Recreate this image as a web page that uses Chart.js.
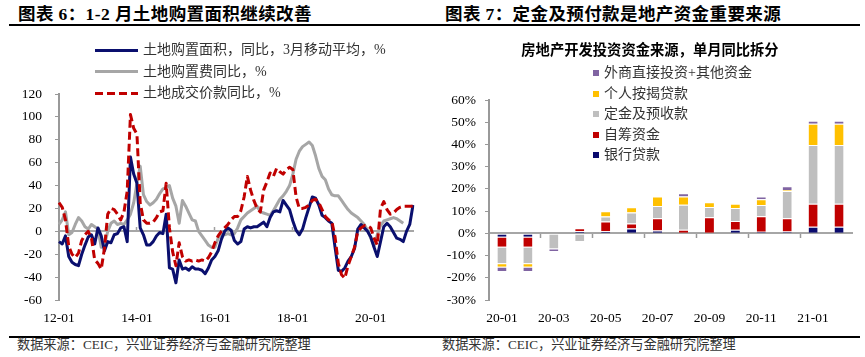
<!DOCTYPE html>
<html><head><meta charset="utf-8">
<script src="https://cdn.jsdelivr.net/npm/chart.js@4.4.0/dist/chart.umd.min.js"></script>
<style>
html,body{margin:0;padding:0;background:#fff;}
#wrap{position:relative;width:865px;height:357px;overflow:hidden;font-family:'Liberation Serif','Noto Sans CJK SC',serif;}
.abs{position:absolute;white-space:nowrap;}
.title{font-size:17.5px;font-weight:bold;color:#000;line-height:20px;letter-spacing:0.4px;}
.sub{font-size:14.3px;font-weight:bold;color:#000;line-height:18px;}
.leg{font-size:14px;color:#333;line-height:18px;}
.src{font-size:13.2px;color:#333;line-height:16px;}
canvas{position:absolute;}
</style></head>
<body><div id="wrap">
<div class="abs title" style="left:18px;top:4px">图表 6：1-2 月土地购置面积继续改善</div>
<div class="abs title" style="left:445px;top:4px">图表 7：定金及预付款是地产资金重要来源</div>
<div class="abs" style="left:9px;top:24px;width:851px;height:2px;background:#000"></div>
<canvas id="c1" width="432" height="335" style="left:0;top:0"></canvas>
<canvas id="c2" width="433" height="335" style="left:432px;top:0"></canvas>
<div class="abs sub" id="sub2" style="left:650px;top:41px;transform:translateX(-50%)">房地产开发投资资金来源，单月同比拆分</div>
<div id="leg1"></div>
<div id="leg2"></div>
<div class="abs" style="left:9px;top:336px;width:851px;height:1.5px;background:#000"></div>
<div class="abs src" style="left:17px;top:337px">数据来源：CEIC，兴业证券经济与金融研究院整理</div>
<div class="abs src" style="left:442px;top:337px">数据来源：CEIC，兴业证券经济与金融研究院整理</div>
</div>
<script>
// ---------- Left chart data ----------
const months = [];
for (let k = 0; k < 110; k++) { const yy = 12 + Math.floor(k / 12), mm = k % 12 + 1; months.push(yy + '-' + String(mm).padStart(2, '0')); }
const leftTickLabels = ['12-01', '14-01', '16-01', '18-01', '20-01'];
const leftNames = ['土地购置面积，同比，3月移动平均，%', '土地购置费同比，%', '土地成交价款同比，%'];
const landArea = [-9,-11,-4,-22,-27,-29,-30,-20,-12,-5, -3,-11,3,-4,-17,-9,-10,-3,-2,3, 4,-9,65,50,42,3,-3,-12,-12,-9, -4,-1,-2,15,-32,-33,-45,-25,-33,-32, -34,-31,-33,-33,-34,-37,-32,-25,-22,-17, -7,0,3,1,-8,-11,-9,2,4,3, 4,4,6,8,4,12,17,18,17,27, 23,19,9,1,-3,2,12,21,30,29, 23,14,12,9,7,-14,-34,-35,-32,-26, -22,-15,2,6,3,0,-5,-14,-22,-9, 4,7,4,-1,-6,-7,-9,0,6,23];
const landCost = [6,10,17,-3,-1,6,12,9,4,2, 6,4,2,-14,-12,0,7,9,6,7, 6,10,15,25,42,57,32,26,23,25, 28,33,37,38,40,29,22,7,27,22, 16,10,9,0,-4,-8,-12,-14,-14,-6, -3,-3,-2,-3,-2,3,10,13,16,18, 20,22,17,16,15,14,18,23,28,31, 35,40,50,63,70,74,76,78,75,66, 55,48,45,37,32,31,31,27,23,19, 16,14,12,9,6,1,-6,-13,-3,5, 9,10,11,12,11,9,7];
const landValue = [25,21,10,-13,-20,-23,-19,-8,-3,0, -6,-25,-28,-33,-15,15,20,19,15,10, 17,35,102,90,85,25,10,7,7,8, 12,17,18,42,3,-18,-30,-10,-22,-26, -25,-26,-25,-26,-25,-26,-23,-18,-10,-4, 0,3,6,10,13,13,18,30,48,36, 27,20,17,36,43,51,48,55,52,50, 54,56,54,30,20,20,21,23,27,28, 25,19,13,10,9,-5,-28,-38,-41,-30, -22,-14,0,3,5,5,3,-6,-12,20, 26,19,15,16,19,21,22,22,22,22];
const leftColors = ['#0a0f6e', '#a6a6a6', '#c00000'];

// ---------- Right chart data ----------
const barMonths = ['20-01','20-02','20-03','20-04','20-05','20-06','20-07','20-08','20-09','20-10','20-11','20-12','21-01','21-02'];
const bankLoans = [-1.5,-1.5,0,0.9,0.9,2.2,1.3,0,0,1.6,0.7,0.8,3.0,3.0];
const selfRaised = [-4.5,-4.5,0,1.4,4.4,2.2,5.5,1.6,7.2,3.9,7.0,6.0,10.3,10.3];
const deposits = [-7.5,-7.5,-6.8,-3.5,2.3,5.0,5.5,11.3,4.6,5.9,5.0,12.3,26.5,26.5];
const mortgages = [-1.5,-1.5,0,0,2.3,2.3,4.3,3.7,2.2,1.9,2.6,0.4,9.5,9.5];
const otherFunds = [-2.0,-2.0,-1.2,0,0,0,0,1.4,0,0,1.3,1.7,1.4,1.4];
const rightNames = ['银行贷款', '自筹资金', '定金及预收款', '个人按揭贷款', '外商直接投资+其他资金'];
const rightColors = ['#0a0a6e', '#c00000', '#bfbfbf', '#ffc000', '#8064a2'];
const rightSeries = [bankLoans, selfRaised, deposits, mortgages, otherFunds];

Chart.defaults.font.family = "'Liberation Serif','Noto Sans CJK SC',serif";
Chart.defaults.color = '#000';
const transparent = 'rgba(0,0,0,0)';

new Chart(document.getElementById('c1'), {
  type: 'line',
  data: {
    labels: months,
    datasets: [
      { label: leftNames[2], data: landValue, borderColor: leftColors[2], borderWidth: 3, borderDash: [8, 4], pointRadius: 0, order: 0, fill: false },
      { label: leftNames[0], data: landArea, borderColor: leftColors[0], borderWidth: 3, pointRadius: 0, order: 1, fill: false },
      { label: leftNames[1], data: landCost, borderColor: leftColors[1], borderWidth: 3, pointRadius: 0, order: 2, fill: false }
    ]
  },
  options: {
    responsive: false, animation: false, devicePixelRatio: 1,
    layout: { padding: { top: 94, right: 19, bottom: 0, left: 0 } },
    plugins: { legend: { display: false }, tooltip: { enabled: false } },
    elements: { line: { tension: 0, borderJoinStyle: 'round' } },
    scales: {
      x: {
        type: 'category', offset: false,
        grid: { display: false, drawTicks: false, tickLength: 0 }, border: { display: false },
        ticks: { autoSkip: false, maxRotation: 0, minRotation: 0, padding: 10, color: '#000', font: { size: 13.5 },
          callback: (v, i) => leftTickLabels.includes(months[i]) ? months[i] : '' },
        afterFit: s => { s.height = 35; }
      },
      x0: {
        type: 'category', axis: 'x', position: { y: 0 }, offset: false,
        ticks: { display: false },
        grid: { drawOnChartArea: false, drawTicks: true, tickLength: -5, tickWidth: 1.5,
          color: c => (c.index > 0 && leftTickLabels.includes(months[c.index])) ? '#a0a0a0' : transparent },
        border: { display: true, color: '#a6a6a6', width: 2 }
      },
      y: {
        min: -60, max: 120,
        ticks: { stepSize: 20, padding: 13, color: '#000', font: { size: 13.5 } },
        grid: { drawOnChartArea: false, drawTicks: true, tickLength: 4, color: '#999' },
        border: { color: '#999', width: 2 },
        afterFit: s => { s.width = 59; }
      }
    }
  }
});

new Chart(document.getElementById('c2'), {
  type: 'bar',
  data: {
    labels: barMonths,
    datasets: rightSeries.map((d, k) => ({ label: rightNames[k], data: d, backgroundColor: rightColors[k] }))
  },
  options: {
    responsive: false, animation: false, devicePixelRatio: 1,
    layout: { padding: { top: 100, right: 13, bottom: 0, left: 0 } },
    plugins: { legend: { display: false }, tooltip: { enabled: false } },
    datasets: { bar: { categoryPercentage: 1, barPercentage: 0.35, borderColor: '#fff',
      borderWidth: { top: 1, right: 0, bottom: 0, left: 0 }, borderSkipped: false } },
    scales: {
      x: {
        stacked: true, offset: true,
        grid: { display: false, drawTicks: false, tickLength: 0 }, border: { display: false },
        ticks: { autoSkip: false, maxRotation: 0, minRotation: 0, padding: 10, color: '#000', font: { size: 13.5 },
          callback: (v, i) => i % 2 === 0 ? barMonths[i] : '' },
        afterFit: s => { s.height = 35; }
      },
      x0: {
        type: 'category', axis: 'x', position: { y: 0 }, offset: true,
        ticks: { display: false },
        grid: { offset: true, drawOnChartArea: false, drawTicks: true, tickLength: 4, tickWidth: 1.5,
          color: c => (c.index > 0 && c.index % 2 === 0) ? '#999' : transparent },
        border: { display: true, color: '#a6a6a6', width: 2 }
      },
      y: {
        stacked: true, min: -30, max: 60,
        ticks: { stepSize: 10, padding: 9, color: '#000', font: { size: 13.5 }, callback: v => v + '%' },
        grid: { drawOnChartArea: false, drawTicks: true, tickLength: 4, color: '#999' },
        border: { color: '#999', width: 2 },
        afterFit: s => { s.width = 57; }
      }
    }
  }
});

// ---------- HTML legends ----------
const leg1 = document.getElementById('leg1');
[0, 1, 2].forEach((k, r) => {
  const cy = 50 + r * 21.5;
  const line = document.createElement('div');
  line.className = 'abs';
  line.style.cssText = 'left:95px;width:43px;height:3px;top:' + (cy - 1.5) + 'px;' +
    (k === 2 ? 'background:repeating-linear-gradient(90deg,' + leftColors[k] + ' 0 8px,transparent 8px 12px);' : 'background:' + leftColors[k] + ';');
  leg1.appendChild(line);
  const t = document.createElement('div');
  t.className = 'abs leg';
  t.style.left = '143px'; t.style.top = (cy - 9) + 'px';
  t.textContent = leftNames[k];
  leg1.appendChild(t);
});
const leg2 = document.getElementById('leg2');
[4, 3, 2, 1, 0].forEach((k, r) => {
  const cy = 73 + r * 20.6;
  const sq = document.createElement('div');
  sq.className = 'abs';
  sq.style.cssText = 'left:593px;width:6px;height:6px;top:' + (cy - 3) + 'px;background:' + rightColors[k] + ';';
  leg2.appendChild(sq);
  const t = document.createElement('div');
  t.className = 'abs leg';
  t.style.left = '604px'; t.style.top = (cy - 9) + 'px';
  t.textContent = rightNames[k];
  leg2.appendChild(t);
});
</script>
</body></html>
